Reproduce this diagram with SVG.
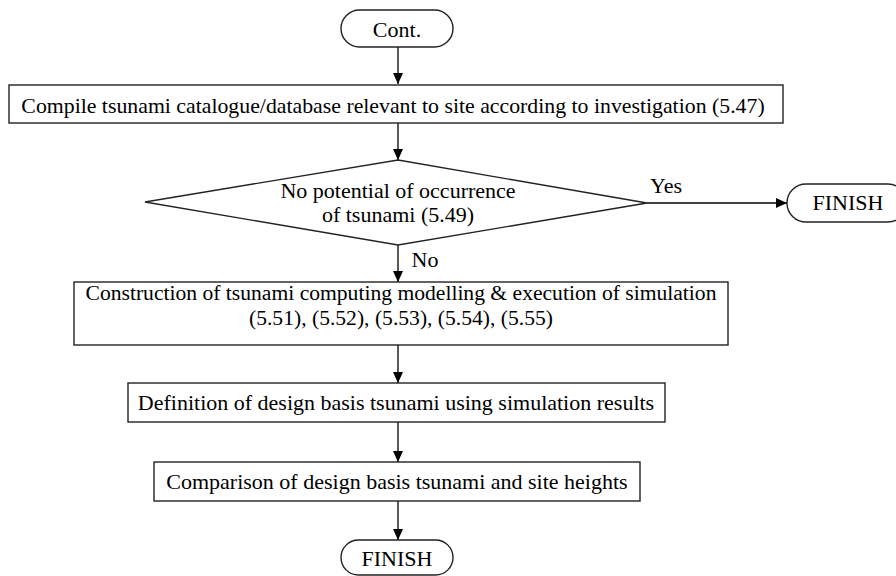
<svg xmlns="http://www.w3.org/2000/svg" width="896" height="576" viewBox="0 0 896 576">
<defs>
<style>
.n{fill:#fff;stroke:#222;stroke-width:1.4}
.t{font-family:"Liberation Serif","Times New Roman",serif;font-size:22px;fill:#000;text-anchor:middle}
.c{stroke:#000;stroke-width:1.3;fill:none;marker-end:url(#ah)}
</style>
<marker id="ah" markerWidth="12" markerHeight="10" refX="11" refY="5" orient="auto" markerUnits="userSpaceOnUse">
<path d="M0,0 L11,5 L0,10 Z" fill="#000"/>
</marker>
</defs>
<rect width="896" height="576" fill="#fff"/>
<g id="connectors">
<line class="c" x1="398" y1="47" x2="398" y2="84"/>
<line class="c" x1="398" y1="123" x2="398" y2="160"/>
<line class="c" x1="647" y1="203" x2="787" y2="203"/>
<line class="c" x1="398" y1="245" x2="398" y2="282"/>
<line class="c" x1="398" y1="345" x2="398" y2="383"/>
<line class="c" x1="398" y1="422" x2="398" y2="462"/>
<line class="c" x1="398" y1="501" x2="398" y2="540"/>
<text class="t" x="666" y="193">Yes</text>
<text class="t" x="425" y="267">No</text>
</g>
<g id="cont">
<rect class="n" x="341" y="10" width="112" height="37" rx="18.5"/>
<text class="t" x="397" y="37">Cont.</text>
</g>
<g id="compile">
<rect class="n" x="9" y="85" width="774" height="38"/>
<text class="t" x="393" y="113" style="font-size:21.8px">Compile tsunami catalogue/database relevant to site according to investigation (5.47)</text>
</g>
<g id="decision">
<polygon class="n" points="398,160 647,203 398,245 145,202"/>
<text class="t" x="398" y="198">No potential of occurrence</text>
<text class="t" x="398" y="222">of tsunami (5.49)</text>
</g>
<g id="finish1">
<rect class="n" x="787" y="184" width="120" height="38" rx="19"/>
<text class="t" x="848" y="210">FINISH</text>
</g>
<g id="construction">
<rect class="n" x="74" y="282" width="654" height="63"/>
<text class="t" x="401" y="300" style="font-size:21.6px">Construction of tsunami computing modelling &amp; execution of simulation</text>
<text class="t" x="401" y="325" style="font-size:21.6px">(5.51), (5.52), (5.53), (5.54), (5.55)</text>
</g>
<g id="definition">
<rect class="n" x="128" y="383" width="537" height="39"/>
<text class="t" x="396" y="410">Definition of design basis tsunami using simulation results</text>
</g>
<g id="comparison">
<rect class="n" x="154" y="462" width="486" height="39"/>
<text class="t" x="397" y="489">Comparison of design basis tsunami and site heights</text>
</g>
<g id="finish2">
<rect class="n" x="341" y="540" width="112" height="35" rx="17.5"/>
<text class="t" x="397" y="566">FINISH</text>
</g>
</svg>
